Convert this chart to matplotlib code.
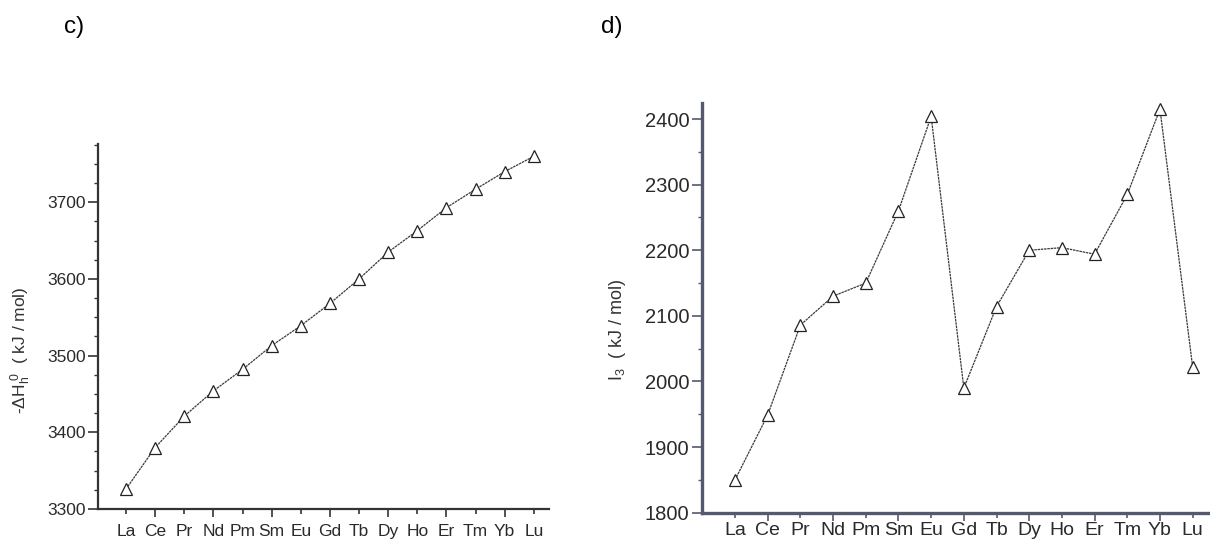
import matplotlib
matplotlib.use("Agg")
import matplotlib.pyplot as plt
from matplotlib.ticker import MultipleLocator

plt.rcParams['font.family'] = ['Liberation Sans', 'DejaVu Sans']
plt.rcParams['mathtext.fontset'] = 'custom'
plt.rcParams['mathtext.rm'] = 'Liberation Sans'
plt.rcParams['mathtext.it'] = 'Liberation Sans'

elements = ['La', 'Ce', 'Pr', 'Nd', 'Pm', 'Sm', 'Eu', 'Gd', 'Tb', 'Dy', 'Ho', 'Er', 'Tm', 'Yb', 'Lu']
hydration_enthalpy = [3326, 3380, 3421, 3454, 3482, 3513, 3539, 3568, 3600, 3635, 3663, 3693, 3717, 3740, 3760]
third_ionization = [1850, 1949, 2086, 2130, 2150, 2260, 2404, 1990, 2114, 2200, 2204, 2194, 2285, 2415, 2022]

fig = plt.figure(figsize=(12.1, 5.44), dpi=100)
W, H = 1210, 544

def make_axes(px_left, px_right, px_bottom, px_top):
    return fig.add_axes([px_left / W, 1 - px_bottom / H, (px_right - px_left) / W, (px_bottom - px_top) / H])

axc = make_axes(98, 549, 509, 144)
axd = make_axes(702, 1209, 512.7, 103.3)

spine_c = '#333333'
spine_d = '#55596e'
line_col = '#3a3a3a'
x = list(range(len(elements)))

for ax, vals, scol, xfs, yfs, sw, xpad in [(axc, hydration_enthalpy, spine_c, 12.5, 12.5, 1.6, 5),
                                           (axd, third_ionization, spine_d, 14, 14.5, 2.4, 1)]:
    ax.plot(x, vals, color=line_col, lw=0.9, linestyle=(0, (2, 0.6)),
            marker='^', markersize=9, markerfacecolor='white', markeredgecolor='#222222', markeredgewidth=0.9)
    for s in ['top', 'right']:
        ax.spines[s].set_visible(False)
    for s in ['left', 'bottom']:
        ax.spines[s].set_color(scol)
        ax.spines[s].set_linewidth(sw)
    ax.set_xticks(x)
    ax.set_xticklabels(elements, fontsize=xfs, color='#2a2a2a')
    ax.tick_params(axis='x', direction='out', length=6, width=1.2, color=scol, pad=xpad)
    ax.tick_params(axis='y', which='major', direction='out', length=7, width=1.2, color=scol,
                   labelsize=yfs, labelcolor='#2a2a2a', pad=2)
    ax.tick_params(axis='y', which='minor', direction='out', length=3, width=1.0, color=scol)
    for i, t in enumerate(ax.xaxis.get_major_ticks()):
        if i % 2 == 0:
            t.tick1line.set_markersize(3.5)

axc.set_xlim(-0.96, 14.52)
axc.set_ylim(3300, 3776)
axc.yaxis.set_major_locator(MultipleLocator(100))
axc.yaxis.set_minor_locator(MultipleLocator(25))

axd.set_xlim(-1.01, 14.5)
axd.set_ylim(1800, 2424)
axd.yaxis.set_major_locator(MultipleLocator(100))
axd.yaxis.set_minor_locator(MultipleLocator(50))

fig.text(21 / W, 1 - 350 / H, r'-$\Delta$H$_{\mathregular{h}}^{\mathregular{\ 0}}$  ( kJ / mol)',
         rotation=90, ha='center', va='center', fontsize=12.5, color='#333333')
fig.text(617 / W, 1 - 330 / H, r'I$_{\mathregular{3}}$  ( kJ / mol)',
         rotation=90, ha='center', va='center', fontsize=13, color='#333333')

fig.text(64 / W, 1 - 27 / H, 'c)', fontsize=17.5, ha='left', va='center')
fig.text(601 / W, 1 - 27 / H, 'd)', fontsize=17.5, ha='left', va='center')

fig.savefig('out.png', dpi=100)
